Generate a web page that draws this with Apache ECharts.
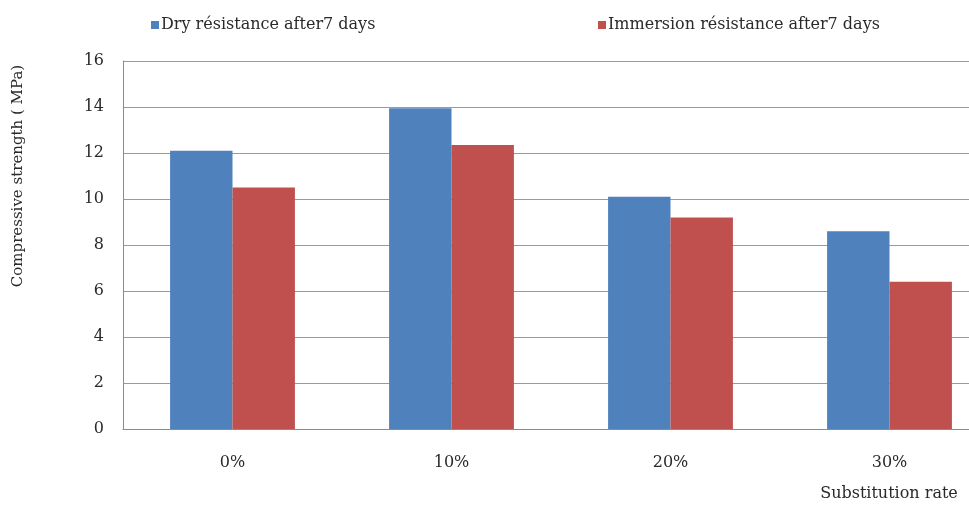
<!DOCTYPE html>
<html>
<head>
<meta charset="utf-8">
<script src="https://cdn.jsdelivr.net/npm/echarts@6/dist/echarts.min.js"></script>
<style>
  html, body { margin: 0; padding: 0; background: #fff; overflow: hidden; }
  /* the original figure is cut off on the right, so the canvas is wider than the window */
  #chart { width: 1000px; height: 509px; }
</style>
</head>
<body>
<div id="chart"></div>
<script>
// data
var categories = ['0%', '10%', '20%', '30%'];
var dryName = 'Dry résistance after7 days';
var immName = 'Immersion résistance after7 days';
var dryValues = [12.1, 13.95, 10.1, 8.6];
var immValues = [10.5, 12.35, 9.2, 6.4];
var yTicks = { min: 0, max: 16, interval: 2 };

var font = 'DejaVu Serif';
var txt = '#2a2a2a';
var myChart = echarts.init(document.getElementById('chart'));

myChart.setOption({
    animation: false,
    backgroundColor: '#fff',
    textStyle: { fontFamily: font },
    legend: [
        {
            data: [dryName], left: 146, top: 12,
            itemWidth: 8, itemHeight: 8, itemGap: 0, icon: 'rect',
            textStyle: { fontFamily: font, fontSize: 16, color: txt, padding: [0, 0, 0, -3] }
        },
        {
            data: [immName], left: 593, top: 12,
            itemWidth: 8, itemHeight: 8, itemGap: 0, icon: 'rect',
            textStyle: { fontFamily: font, fontSize: 16, color: txt, padding: [0, 0, 0, -3] }
        }
    ],
    grid: { left: 123, top: 61, width: 876, height: 368 },
    xAxis: {
        type: 'category',
        data: categories,
        axisLine: { lineStyle: { color: '#8c8c8c', width: 1 } },
        axisTick: { show: false },
        axisLabel: { color: txt, fontSize: 16, fontFamily: font, margin: 26 }
    },
    yAxis: {
        type: 'value',
        min: yTicks.min, max: yTicks.max, interval: yTicks.interval,
        axisLine: { show: true, lineStyle: { color: '#8c8c8c', width: 1 } },
        axisTick: { show: false },
        axisLabel: { color: txt, fontSize: 16, fontFamily: font, margin: 19 },
        splitLine: { lineStyle: { color: '#9a9a9a', width: 1 } }
    },
    series: [
        {
            name: dryName, type: 'bar', data: dryValues,
            barGap: '0%', barCategoryGap: '43%',
            itemStyle: { color: '#4F81BD' }
        },
        {
            name: immName, type: 'bar', data: immValues,
            itemStyle: { color: '#C0504D' }
        }
    ],
    graphic: [
        {
            type: 'text', x: 18, y: 176, rotation: Math.PI / 2,
            style: {
                text: 'Compressive strength ( MPa)', fill: txt,
                font: '15px "' + font + '"', align: 'center', verticalAlign: 'middle'
            }
        },
        {
            type: 'text', x: 889, y: 494,
            style: {
                text: 'Substitution rate', fill: txt,
                font: '16px "' + font + '"', align: 'center', verticalAlign: 'middle'
            }
        }
    ]
});
</script>
</body>
</html>
